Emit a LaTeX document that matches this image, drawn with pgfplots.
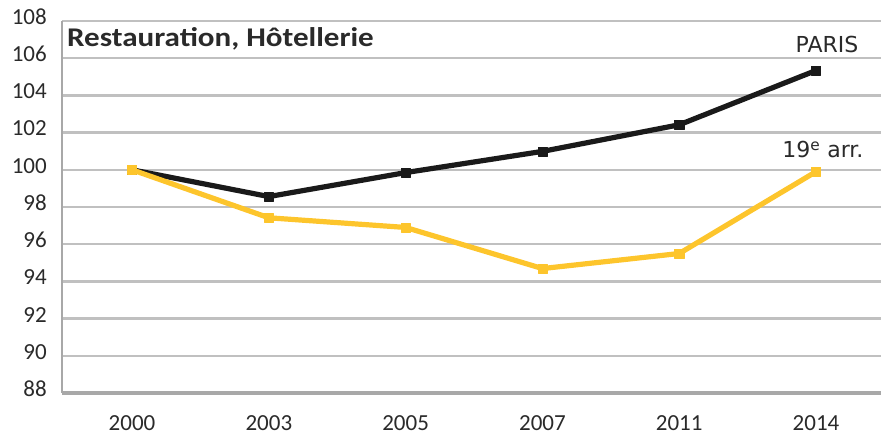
\documentclass[border=0pt]{standalone}
\usepackage{pgfplots}
\pgfplotsset{compat=1.18}
\usepackage{fontspec}
\setmainfont{Carlito}
\newfontfamily\labfont{DejaVu Sans}
\newfontfamily\titlefont[FakeStretch=1.15]{Carlito}
\definecolor{paris}{HTML}{1A1A1A}
\definecolor{arr}{HTML}{FDC52C}
\definecolor{gridc}{HTML}{C0C0C0}
\definecolor{axc}{HTML}{A8A8A8}
\definecolor{txt}{HTML}{2A2A2A}
\begin{document}
\begin{tikzpicture}
\begin{axis}[
 scale only axis, width=819pt, height=372pt,
 xmin=-0.512, xmax=5.475, ymin=88, ymax=108,
 xtick={0,...,5}, xticklabels={2000,2003,2005,2007,2011,2014},
 ytick={88,90,...,108},
 /pgf/number format/assume math mode=true,
 axis x line*=bottom, axis y line*=left,
 x axis line style={draw=axc, line width=3.2pt, -},
 y axis line style={draw=axc, line width=2.2pt, -},
 ymajorgrids, major grid style={draw=gridc, line width=2.4pt},
 major tick length=0pt,
 tick label style={font=\fontsize{23}{23}\selectfont, text=txt},
 xticklabel style={inner sep=0pt, yshift=-22pt},
 yticklabel style={inner sep=0pt, xshift=-15pt, yshift=4pt},
 clip=false,
]
\addplot[paris, line width=5.2pt, line join=round, mark=square*, mark size=4.6pt, mark options={solid, fill=paris, line width=0.5pt}]
 coordinates {(0,100) (1,98.56) (2,99.85) (3,100.99) (4,102.42) (5,105.34)};
\addplot[arr, line width=5.2pt, line join=round, mark=square*, mark size=4.6pt, mark options={solid, fill=arr, line width=0.5pt}]
 coordinates {(0,100) (1,97.42) (2,96.9) (3,94.69) (4,95.5) (5,99.9)};
\node[anchor=base west, inner sep=0pt, xshift=5pt, yshift=-26pt, text=txt, font=\titlefont\bfseries\fontsize{27}{27}\selectfont] at (rel axis cs:0,1) {Restauration, Hôtellerie};
\node[anchor=base, inner sep=0pt, text=txt, font=\labfont\fontsize{22}{22}\selectfont] at (axis cs:5.08,106.29) {PARIS};
\node[anchor=base, inner sep=0pt, text=txt, font=\labfont\fontsize{22}{22}\selectfont] at (axis cs:5.05,100.65) {19\textsuperscript{e} arr.};
\end{axis}
\pgfresetboundingbox
\path[use as bounding box] ([xshift=-62pt,yshift=-43pt]current axis.south west) rectangle ([yshift=21pt]current axis.north east);
\end{tikzpicture}
\end{document}
